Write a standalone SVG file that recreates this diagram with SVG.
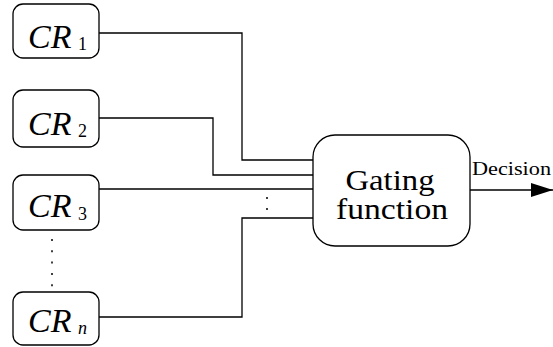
<svg xmlns="http://www.w3.org/2000/svg" width="553" height="347" viewBox="0 0 553 347">
<defs>
<style>
.box{fill:#fff;stroke:#000;stroke-width:1.3}
.cr{font-family:'Liberation Serif','Times New Roman',Tinos,'DejaVu Serif',serif;font-style:italic;font-size:34px;fill:#000}
.sub{font-family:'Liberation Serif','Times New Roman',Tinos,'DejaVu Serif',serif;font-size:18px;fill:#000}
.lbl{font-family:'Liberation Serif','Times New Roman',Tinos,'DejaVu Serif',serif;fill:#000}
.wire{fill:none;stroke:#000;stroke-width:1.3}
.dots{fill:none;stroke:#000;stroke-width:1.5;stroke-dasharray:2 9.3}
</style>
<marker id="arr" markerWidth="22" markerHeight="14" refX="22" refY="7" orient="auto" markerUnits="userSpaceOnUse">
<path d="M0,0 L22,7 L0,14 Z" fill="#000"/>
</marker>
</defs>
<rect width="553" height="347" fill="#fff"/>
<g id="connectors">
<polyline class="wire" points="99,33 242,33 242,160 313,160"/>
<polyline class="wire" points="99,118 213,118 213,175 313,175"/>
<polyline class="wire" points="99,189 313,189"/>
<polyline class="wire" points="99,317 242,317 242,218 313,218"/>
<line class="wire" x1="470" y1="190" x2="553" y2="190" marker-end="url(#arr)"/>
<line class="dots" x1="52" y1="239" x2="52" y2="290"/>
<line class="dots" x1="267" y1="197" x2="267" y2="212" style="stroke-dasharray:2 9"/>
<text class="lbl" x="472" y="175" font-size="19" textLength="79" lengthAdjust="spacingAndGlyphs">Decision</text>
</g>
<g id="cr1">
<rect class="box" x="13" y="4" width="86" height="54" rx="10"/>
<text class="cr" x="28" y="48">CR</text><text class="sub" x="78" y="50">1</text>
</g>
<g id="cr2">
<rect class="box" x="13" y="90" width="86" height="57" rx="10"/>
<text class="cr" x="28" y="135">CR</text><text class="sub" x="78" y="137">2</text>
</g>
<g id="cr3">
<rect class="box" x="13" y="175" width="86" height="55" rx="10"/>
<text class="cr" x="28" y="217">CR</text><text class="sub" x="78" y="220">3</text>
</g>
<g id="crn">
<rect class="box" x="13" y="292" width="86" height="53" rx="10"/>
<text class="cr" x="28" y="332">CR</text><text class="sub" x="78" y="334" font-style="italic">n</text>
</g>
<g id="gating">
<rect class="box" x="313" y="135" width="157" height="111" rx="22"/>
<text class="lbl" x="390" y="190" font-size="29" text-anchor="middle" textLength="89" lengthAdjust="spacingAndGlyphs">Gating</text>
<text class="lbl" x="392" y="219" font-size="29" text-anchor="middle" textLength="112" lengthAdjust="spacingAndGlyphs">function</text>
</g>
</svg>
